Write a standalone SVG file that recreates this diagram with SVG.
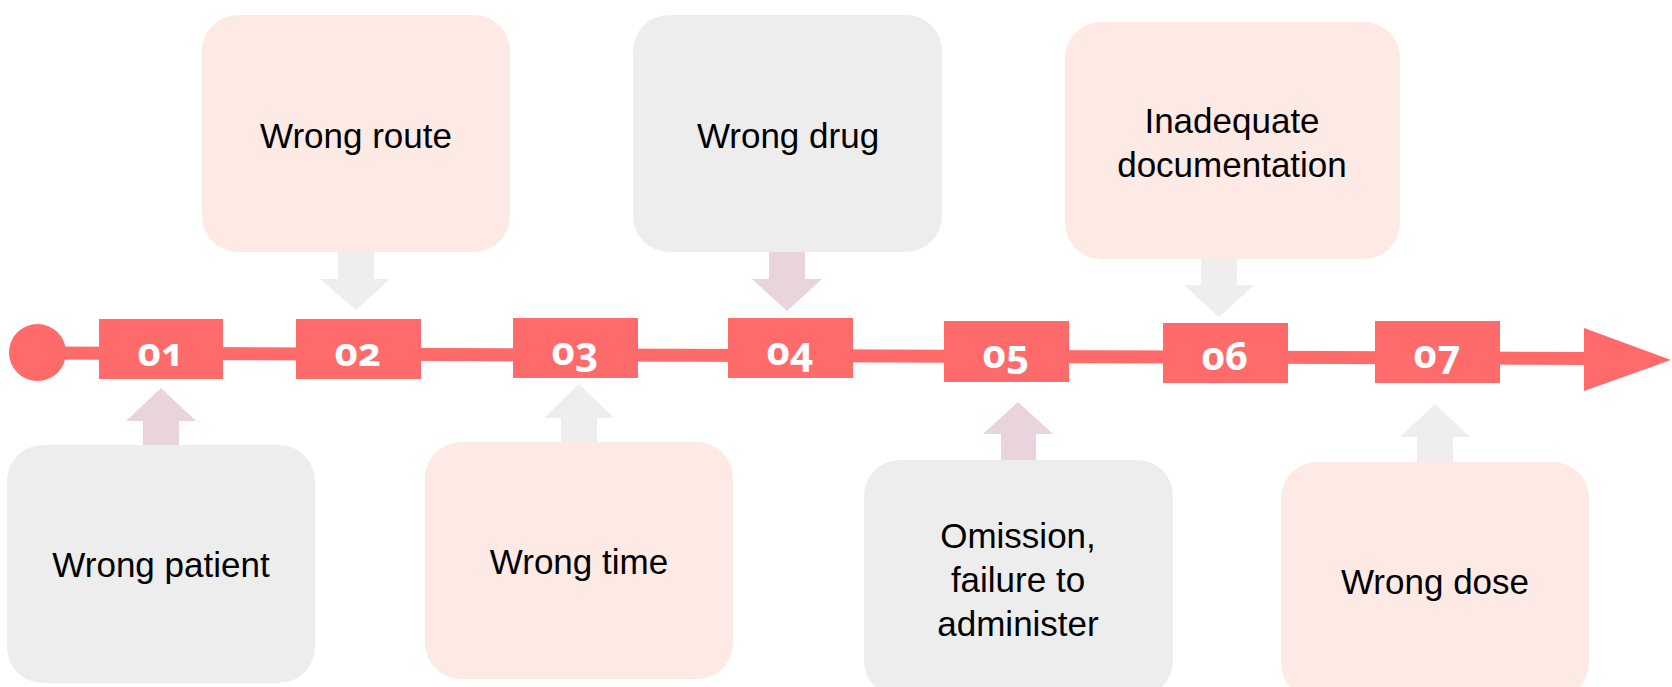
<svg xmlns="http://www.w3.org/2000/svg" width="1672" height="687" viewBox="0 0 1672 687">
<style>
.pink{fill:#FDEAE5}
.grey{fill:#EDEDED}
.lbl{font-family:"Liberation Sans",Arial,sans-serif;font-size:35px;fill:#000;text-anchor:middle}
.num{font-family:"Noto Sans","Liberation Sans",sans-serif;font-weight:bold;font-size:40px;fill:#fff;text-anchor:middle;font-variant-numeric:oldstyle-nums}
.step{fill:#FF6B6B}
.am{fill:#E9D3DD}
.ag{fill:#EEEEEE}
</style>
<rect width="1672" height="687" fill="#fff"/>
<g id="connectors">
  <line x1="37" y1="353" x2="1590" y2="358.5" stroke="#FF6B6B" stroke-width="13"/>
  <polygon points="1584,328 1671,360 1584,391" fill="#FF6B6B"/>
  <circle cx="37.5" cy="352.5" r="28.5" fill="#FF6B6B"/>
  <polygon class="am" points="143,445 143,421 126,421 161,388 196,421 179,421 179,445"/>
  <polygon class="ag" points="338,252 374,252 374,279 390,279 356,310 320,279 338,279"/>
  <polygon class="ag" points="561,442 561,418 544,418 579,384 614,418 597,418 597,442"/>
  <polygon class="am" points="769,252 805,252 805,279 822,279 787,311 752,279 769,279"/>
  <polygon class="am" points="1001,460 1001,434 983,434 1018,402 1053,434 1036,434 1036,460"/>
  <polygon class="ag" points="1201,258 1237,258 1237,285 1254,285 1219,317 1184,285 1201,285"/>
  <polygon class="ag" points="1417,462 1417,437 1400,437 1435,404 1470,437 1453,437 1453,462"/>
</g>
<g id="step01"><rect class="step" x="99" y="319" width="124" height="60"/><text class="num" x="161" y="366">01</text></g>
<g id="step02"><rect class="step" x="296" y="319" width="125" height="60"/><text class="num" x="358" y="366">02</text></g>
<g id="step03"><rect class="step" x="513" y="318" width="125" height="60"/><text class="num" x="575" y="365">03</text></g>
<g id="step04"><rect class="step" x="728" y="318" width="125" height="60"/><text class="num" x="790" y="365">04</text></g>
<g id="step05"><rect class="step" x="944" y="321" width="125" height="61"/><text class="num" x="1006" y="368">05</text></g>
<g id="step06"><rect class="step" x="1163" y="323" width="125" height="60"/><text class="num" x="1225" y="370">06</text></g>
<g id="step07"><rect class="step" x="1375" y="321" width="125" height="62"/><text class="num" x="1437" y="368">07</text></g>
<g id="wrong-patient"><rect class="grey" x="7" y="445" width="308" height="238" rx="36"/><text class="lbl" x="161" y="577">Wrong patient</text></g>
<g id="wrong-route"><rect class="pink" x="202" y="15" width="308" height="237" rx="36"/><text class="lbl" x="356" y="148">Wrong route</text></g>
<g id="wrong-time"><rect class="pink" x="425" y="442" width="308" height="237" rx="36"/><text class="lbl" x="579" y="574">Wrong time</text></g>
<g id="wrong-drug"><rect class="grey" x="633" y="15" width="309" height="237" rx="36"/><text class="lbl" x="788" y="148">Wrong drug</text></g>
<g id="omission"><rect class="grey" x="864" y="460" width="309" height="237" rx="36"/><text class="lbl" x="1018" y="548">Omission,</text><text class="lbl" x="1018" y="592">failure to</text><text class="lbl" x="1018" y="636">administer</text></g>
<g id="inadequate-documentation"><rect class="pink" x="1065" y="22" width="335" height="237" rx="36"/><text class="lbl" x="1232" y="133">Inadequate</text><text class="lbl" x="1232" y="177">documentation</text></g>
<g id="wrong-dose"><rect class="pink" x="1281" y="462" width="308" height="237" rx="36"/><text class="lbl" x="1435" y="594">Wrong dose</text></g>
</svg>
